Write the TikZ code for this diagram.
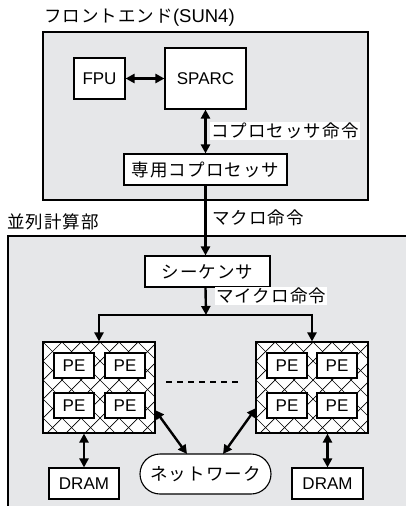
\documentclass[tikz,border=0pt]{standalone}
\usepackage{fontspec}
\setmainfont{Noto Sans CJK JP}[LetterSpace=6]
\newfontfamily\lat{Liberation Sans}
\usetikzlibrary{arrows.meta}
\definecolor{bg}{HTML}{E6E7E9}
\tikzset{
  box/.style={draw, line width=1.1pt, fill=white, inner sep=0pt, font=\fontsize{17}{17}\selectfont\lat},
  jbox/.style={draw, line width=1.1pt, fill=white, inner sep=0pt, font=\fontsize{17.5}{17.5}\selectfont},
  frame/.style={draw, line width=2pt, fill=bg},
  lab/.style={inner sep=1pt, font=\fontsize{17.5}{17.5}\selectfont, anchor=west},
  conn/.style={line width=2.4pt, -{Triangle[length=9pt,width=9pt]}},
  bconn/.style={line width=2.4pt, {Triangle[length=9pt,width=9pt]}-{Triangle[length=9pt,width=9pt]}},
  plain/.style={line width=2.4pt},
  hatch/.style={line width=0.7pt},
}
\begin{document}
\begin{tikzpicture}[x=1pt,y=-1pt]
\useasboundingbox (0,0) rectangle (406,506);
\clip (0,0) rectangle (406,506);
\fill[white] (0,0) rectangle (406,506);
% frames
\draw[frame] (43,32) rectangle (368,200);
\draw[frame] (8,236) rectangle (420,520);
\node[lab] (title) at (43,18) {フロントエンド{\lat\fontsize{18.5}{18.5}\selectfont(SUN4)}};
\node[lab] (para) at (6,222) {並列計算部};
% front-end nodes
\node[box, minimum width=51pt, minimum height=41pt] (fpu) at (99.5,78.5) {FPU};
\node[box, minimum width=81pt, minimum height=61pt] (sparc) at (205.5,78.5) {SPARC};
\node[jbox, minimum width=163pt, minimum height=31pt] (copro) at (205.5,169.5) {専用コプロセッサ};
\node[jbox, minimum width=125pt, minimum height=31pt] (seq) at (207.5,271.5) {シーケンサ};
% clusters
\foreach \n/\x in {L/43,R/256}{
  \begin{scope}
    \clip (\x,342) rectangle ++(112,91);
    \fill[white] (\x,342) rectangle ++(112,91);
    \foreach \i in {-6,...,12}{
      \draw[hatch] (\x+\i*19,342) -- ++(100,100);
      \draw[hatch] (\x+\i*19,342) -- ++(-100,100);
    }
  \end{scope}
  \node[draw, line width=1.1pt, minimum width=112pt, minimum height=91pt, inner sep=0pt] (cl\n) at (\x+56,387.5) {};
}
\node[box, minimum width=40pt, minimum height=25pt] (pe1) at (74,365.5) {PE};
\node[box, minimum width=40pt, minimum height=25pt] (pe2) at (125,365.5) {PE};
\node[box, minimum width=40pt, minimum height=25pt] (pe3) at (74,405.5) {PE};
\node[box, minimum width=40pt, minimum height=25pt] (pe4) at (125,405.5) {PE};
\node[box, minimum width=40pt, minimum height=25pt] (pe5) at (287,365.5) {PE};
\node[box, minimum width=40pt, minimum height=25pt] (pe6) at (337,365.5) {PE};
\node[box, minimum width=40pt, minimum height=25pt] (pe7) at (287,405.5) {PE};
\node[box, minimum width=40pt, minimum height=25pt] (pe8) at (337,405.5) {PE};
\node[box, minimum width=70pt, minimum height=31pt] (dramL) at (84,483.5) {DRAM};
\node[box, minimum width=71pt, minimum height=31pt] (dramR) at (327.5,483.5) {DRAM};
\node[jbox, minimum width=131pt, minimum height=40pt, rounded corners=20pt] (net) at (205.5,474) {ネットワーク};
% connectors
\draw[bconn] (fpu.east) -- (sparc.west |- fpu.east);
\draw[bconn] (sparc.south) -- (copro.north);
\draw[conn] (copro.south) -- (copro.south |- seq.north);
\coordinate (split) at (206,315);
\coordinate (splitL) at (99,315);
\coordinate (splitR) at (312,315);
\draw[conn] (copro.south |- seq.south) -- (split);
\draw[plain] (splitL) -- (splitR);
\draw[conn] ([yshift=1.2pt]splitL) -- (clL.north);
\draw[conn] ([yshift=1.2pt]splitR) -- (clR.north);
\draw[bconn] (dramL.north) -- (dramL.north |- clL.south);
\draw[bconn] (dramR.north) -- (dramR.north |- clR.south);
\coordinate (nL) at (187,454);
\coordinate (nR) at (223,454);
\coordinate (cLe) at (155,410);
\coordinate (cRe) at (256,408);
\draw[bconn] (cLe) -- (nL);
\draw[bconn] (cRe) -- (nR);
\draw[line width=2pt, dash pattern=on 6pt off 5pt] (166,382) -- (242,382);
% labels
\node[lab, fill=white] (l1) at (210,131) {コプロセッサ命令};
\node[lab] (l2) at (211,218) {マクロ命令};
\node[lab, fill=white] (l3) at (215,296) {マイクロ命令};
\end{tikzpicture}
\end{document}
